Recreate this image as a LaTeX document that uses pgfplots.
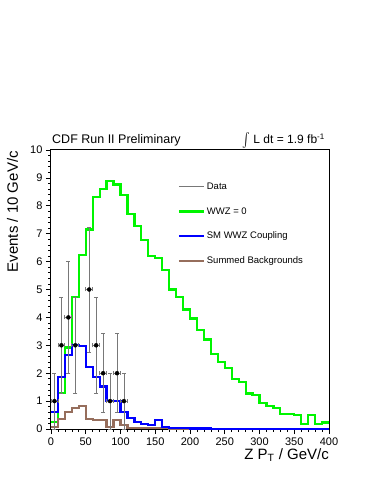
\documentclass[border=0pt]{standalone}
\usepackage{fontspec}
\setmainfont{Liberation Sans}
\usepackage{graphicx}
\usepackage{pgfplots}
\usepackage{pgfplotstable}
\pgfplotsset{compat=1.18}

\definecolor{rootgreen}{RGB}{0,245,0}
\definecolor{rootblue}{RGB}{0,0,255}
\definecolor{rootbrown}{RGB}{150,110,92}
\definecolor{errgray}{RGB}{120,120,120}

% bin left edge, WWZ=0, SM WWZ, summed backgrounds
\pgfplotstableread{
x   wwz   sm    bkg
0   0.24  0.62  0.08
10  1.28  1.86  0.37
20  2.92  2.65  0.60
30  4.73  3.00  0.76
40  6.23  2.97  0.82
50  7.15  2.21  0.37
60  8.31  1.85  0.32
70  8.60  1.52  0.31
80  8.90  1.00  0.06
90  8.76  1.00  0.33
100 8.38  0.62  0.14
110 7.71  0.40  0.05
120 7.27  0.26  0.04
130 6.76  0.18  0.04
140 6.19  0.14  0.04
150 6.14  0.33  0.04
160 5.69  0.07  0.03
170 5.00  0.05  0.02
180 4.74  0.04  0.01
190 4.28  0.03  0.01
200 3.96  0.02  0.01
210 3.54  0.02  0.005
220 3.21  0.02  0.005
230 2.68  0.01  0.005
240 2.40  0.01  0.005
250 2.19  0.01  0.005
260 1.79  0.01  0.005
270 1.69  0.01  0.005
280 1.27  0.01  0.005
290 1.23  0.01  0.005
300 0.94  0.01  0.005
310 0.83  0.01  0.005
320 0.75  0.01  0.005
330 0.54  0.01  0.005
340 0.54  0.01  0.005
350 0.49  0.01  0.005
360 0.17  0.01  0.005
370 0.50  0.01  0.005
380 0.19  0.01  0.005
390 0.23  0.01  0.005
400 0.23  0.01  0.005
}\hist

\pgfplotstableread{
x   y  ex  ey
5   1  5   1
15  3  5   1.73
25  4  5   2
35  3  5   1.73
55  5  5   2.24
65  3  5   1.73
75  2  5   1.41
85  1  5   1
95  2  5   1.41
105 1  5   1
}\data

\begin{document}
\begin{tikzpicture}
\begin{axis}[
    name=ax,
    scale only axis,
    width=278pt, height=279pt,
    xmin=0, xmax=400, ymin=0, ymax=10,
    xtick distance=50, ytick distance=1,
    minor x tick num=4, minor y tick num=4,
    tick align=outside, tick pos=left,
    major tick length=5pt, minor tick length=2.5pt,
    axis line style={line width=1pt},
    every tick/.style={black, line width=0.6pt},
    ticklabel style={font=\fontsize{11}{13}\selectfont},
    /pgf/number format/assume math mode=true,
    xlabel={Z P\textsubscript{T} / GeV/c},
    ylabel={Events / 10 GeV/c},
    label style={font=\fontsize{15}{18}\selectfont, inner sep=0pt},
    xlabel style={at={(rel axis cs:1,-0.11)}, anchor=base east},
    ylabel style={at={(rel axis cs:-0.119,0.996)}, anchor=base east},
    legend style={draw=none, fill=none, at={(rel axis cs:0.455,0.89)}, anchor=north west,
        font=\fontsize{9.5}{11}\selectfont, row sep=12.5pt, inner sep=0pt},
    legend cell align=left,
    legend image code/.code={\draw[#1] (0pt,0pt) -- (25pt,0pt);},
]
\addlegendimage{errgray, line width=1pt}
\addlegendentry{Data}
\addlegendimage{rootgreen, line width=2.2pt}
\addlegendentry{WWZ = 0}
\addlegendimage{rootblue, line width=2.2pt}
\addlegendentry{SM WWZ Coupling}
\addlegendimage{rootbrown, line width=2.2pt}
\addlegendentry{Summed Backgrounds}

\addplot[forget plot, const plot mark left, rootgreen, line width=2.2pt] table[x=x, y=wwz] {\hist};
\addplot[forget plot, const plot mark left, rootbrown, line width=2.2pt] table[x=x, y=bkg] {\hist};
\addplot[forget plot, const plot mark left, rootblue, line width=2.2pt] table[x=x, y=sm] {\hist};
\addplot[forget plot, only marks, mark=*, mark size=2pt, black,
    error bars/.cd, x dir=both, x explicit, y dir=both, y explicit,
    error bar style={errgray, line width=0.9pt},
    error mark options={errgray, line width=0.8pt, mark size=2pt, rotate=90}]
    table[x=x, y=y, x error=ex, y error=ey] {\data};
\end{axis}
\node[anchor=base west, inner sep=0pt, font=\fontsize{12.5}{14}\selectfont]
    at ([shift={(1pt,6.5pt)}]ax.north west) {CDF Run II Preliminary};
\node[anchor=base east, inner sep=0pt, font=\fontsize{12}{14}\selectfont]
    at ([shift={(-4pt,6.5pt)}]ax.north east)
    {\raisebox{-1.5pt}{\scalebox{1.15}[1.45]{$\int$}} L dt = 1.9 fb\textsuperscript{-1}};
\path ([shift={(-51pt,-55pt)}]ax.south west) rectangle ([shift={(45pt,150pt)}]ax.north east);
\end{tikzpicture}
\end{document}
